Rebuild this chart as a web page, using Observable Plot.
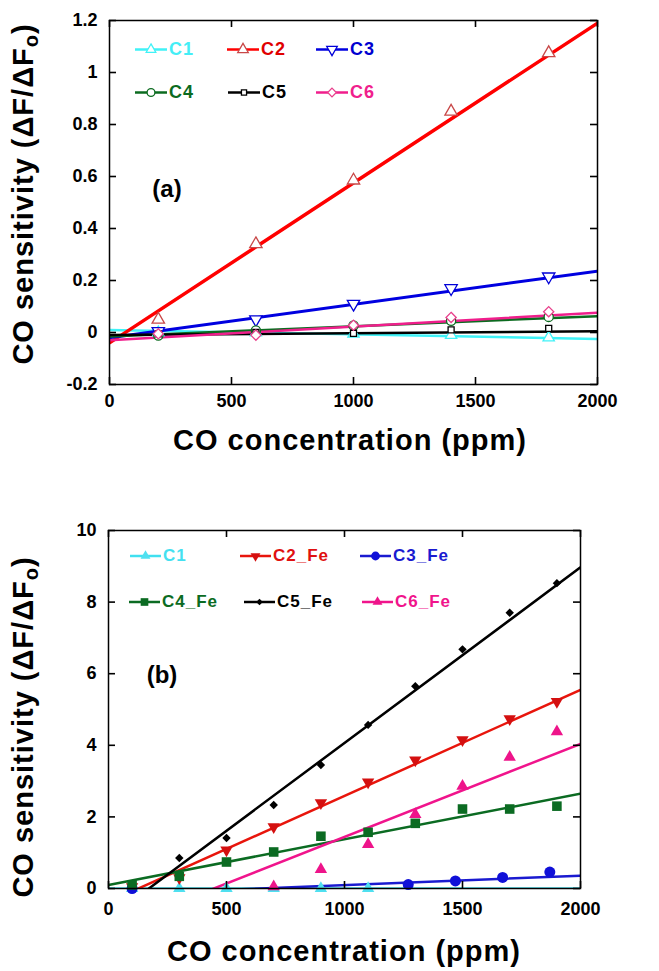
<!DOCTYPE html>
<html><head><meta charset="utf-8">
<script src="https://cdn.jsdelivr.net/npm/d3@7"></script>
<script src="https://cdn.jsdelivr.net/npm/@observablehq/plot@0.6"></script>
<style>
body{margin:0;background:#fff}
#root{position:relative;width:659px;height:971px;overflow:hidden;font-family:"Liberation Sans",Arial,sans-serif;font-weight:bold;color:#000;background:#fff}
.abs{position:absolute;white-space:nowrap}
.ytitle{font-size:29px;letter-spacing:1px;line-height:1;transform:translate(-50%,-50%) rotate(-90deg)}
.ytitle sub{font-size:20px;vertical-align:-5px}
.xtitle{font-size:29px;letter-spacing:1px;line-height:1;transform:translate(-50%,-50%)}
.plab{font-size:24px;line-height:1;transform:translate(-50%,-50%)}
.leg{display:flex;align-items:center;transform:translateY(-50%)}
.chart{position:absolute;left:0}
</style></head><body><div id="root"></div>
<script>
// ---------- shared ----------
const xDomain = [0, 2000];
const xTicks = [0, 500, 1000, 1500, 2000];
const xTickLabels = ["0", "500", "1000", "1500", "2000"];

// ---------- panel (a) data ----------
const seriesA = ["C1", "C2", "C3", "C4", "C5", "C6"];
const concA = [200, 600, 1000, 1400, 1800];
const c1A = [0.0, 0.0, -0.005, -0.01, -0.02];
const c2A = [0.05, 0.34, 0.585, 0.85, 1.075];
const c3A = [0.005, 0.05, 0.11, 0.17, 0.215];
const c4A = [-0.012, 0.008, 0.027, 0.045, 0.06];
const c5A = [-0.005, 0.0, -0.003, 0.01, 0.016];
const c6A = [-0.005, -0.01, 0.028, 0.058, 0.08];
const fitStartA = [0.01, -0.04, -0.02, -0.015, -0.01, -0.03];   // fitted line value at 0 ppm
const fitEndA = [-0.025, 1.19, 0.236, 0.063, 0.005, 0.076];     // fitted line value at 2000 ppm
const yTicksA = [-0.2, 0, 0.2, 0.4, 0.6, 0.8, 1, 1.2];
const yTickLabelsA = ["-0.2", "0", "0.2", "0.4", "0.6", "0.8", "1", "1.2"];

// ---------- panel (b) data ----------
const seriesB = ["C1", "C2_Fe", "C3_Fe", "C4_Fe", "C5_Fe", "C6_Fe"];
const concB1 = [100, 300, 500, 700, 900, 1100];
const c1B = [0, 0, 0, 0, 0, 0];
const concB2 = [100, 300, 500, 700, 900, 1100, 1300, 1500, 1700, 1900];
const c2B = [0.05, 0.3, 1.07, 1.72, 2.39, 2.97, 3.59, 4.15, 4.74, 5.22];
const concB3 = [100, 1270, 1470, 1670, 1870];
const c3B = [0, 0.11, 0.21, 0.31, 0.46];
const concB4 = [100, 300, 500, 700, 900, 1100, 1300, 1500, 1700, 1900];
const c4B = [0.1, 0.34, 0.74, 1.02, 1.46, 1.57, 1.82, 2.22, 2.22, 2.3];
const concB5 = [300, 500, 700, 900, 1100, 1300, 1500, 1700, 1900];
const c5B = [0.85, 1.41, 2.33, 3.45, 4.57, 5.65, 6.68, 7.7, 8.53];
const concB6 = [700, 900, 1100, 1300, 1500, 1700, 1900];
const c6B = [0.05, 0.53, 1.23, 2.07, 2.86, 3.67, 4.38];
const fitStartB = [0, -0.376, -0.17, 0.1, -0.84, -1.16];
const fitEndB = [0, 5.55, 0.36, 2.65, 8.97, 4.04];
const yTicksB = [0, 2, 4, 6, 8, 10];
const yTickLabelsB = ["0", "2", "4", "6", "8", "10"];

// ---------- styles ----------
const FONT = "'Liberation Sans', Arial, sans-serif";
const triangleDown = {
  draw(context, size) {
    const s3 = Math.sqrt(3);
    const y = -Math.sqrt(size / (s3 * 3));
    context.moveTo(0, -y * 2);
    context.lineTo(-s3 * y, y);
    context.lineTo(s3 * y, y);
    context.closePath();
  }
};
const styleA = {
  lineColors: ["#40f2f7", "#ff0000", "#0000e0", "#0b6b1f", "#000000", "#f01e8c"],
  markColors: ["#40f2f7", "#c84848", "#0000d8", "#0b6b1f", "#000000", "#e8408c"],
  textColors: ["#44eef6", "#e00000", "#0000d0", "#0b6b1f", "#000000", "#f0208c"],
  symbols: [d3.symbolTriangle, d3.symbolTriangle, triangleDown, d3.symbolCircle, d3.symbolSquare, d3.symbolDiamond2],
  radii: [4.2, 4.6, 4.6, 4.6, 3.4, 4.6],
  widths: [2.5, 3.5, 3, 2.5, 2.5, 2.5],
  filled: false
};
const styleB = {
  lineColors: ["#40e0f0", "#e8150c", "#1a1ad0", "#0b6b22", "#000000", "#f0148c"],
  markColors: ["#4fe0f0", "#d41010", "#1010d8", "#0b6b22", "#000000", "#ee148a"],
  textColors: ["#44e0f0", "#e01010", "#1a1ad0", "#0b6b22", "#000000", "#f0148c"],
  symbols: [d3.symbolTriangle, triangleDown, d3.symbolCircle, d3.symbolSquare, d3.symbolDiamond2, d3.symbolTriangle],
  radii: [4.6, 4.6, 5.5, 5.4, 3.8, 4.6],
  widths: [2.5, 2.5, 2.5, 2.5, 2.5, 2.5],
  filled: true
};

function makePanel({series, concs, values, fitStart, fitEnd, st, yDomain, yTicks, yLabels, height, margin, xPad, yPad}) {
  const W = 659;
  const fw = W - margin[1] - margin[3];       // frame width (px)
  const fh = height - margin[0] - margin[2];  // frame height (px)
  const T = 7;                                // inward tick length (px)
  const marks = [];
  series.forEach((s, i) => {
    const line = [{x: xDomain[0], y: fitStart[i]}, {x: xDomain[1], y: fitEnd[i]}];
    marks.push(Plot.line(line, {x: "x", y: "y", stroke: st.lineColors[i], strokeWidth: st.widths[i], clip: true}));
  });
  series.forEach((s, i) => {
    const pts = concs[i].map((x, j) => ({x, y: values[i][j]}));
    marks.push(Plot.dot(pts, {
      x: "x", y: "y", symbol: st.symbols[i], r: st.radii[i],
      fill: st.filled ? st.markColors[i] : "white",
      stroke: st.filled ? "none" : st.markColors[i],
      strokeWidth: 1.3
    }));
  });
  const rk = {stroke: "black", strokeWidth: 1.6};
  marks.push(
    Plot.frame({stroke: "black", strokeWidth: 1.5}),
    // inward tick marks on all four sides
    Plot.ruleX(xTicks, {x: d => d, insetTop: fh - T, ...rk}),
    Plot.ruleX(xTicks, {x: d => d, insetBottom: fh - T, ...rk}),
    Plot.ruleY(yTicks, {y: d => d, insetRight: fw - T, ...rk}),
    Plot.ruleY(yTicks, {y: d => d, insetLeft: fw - T, ...rk}),
    // tick labels
    Plot.axisX({anchor: "bottom", ticks: xTicks, tickSize: 0, tickPadding: xPad, fontSize: 18, fontWeight: "bold",
      tickFormat: d => xTickLabels[xTicks.indexOf(d)], label: null}),
    Plot.axisY({anchor: "left", ticks: yTicks, tickSize: 0, tickPadding: yPad, fontSize: 18, fontWeight: "bold",
      tickFormat: d => yLabels[yTicks.indexOf(d)], label: null})
  );
  return Plot.plot({
    width: W, height,
    marginTop: margin[0], marginRight: margin[1], marginBottom: margin[2], marginLeft: margin[3],
    x: {domain: xDomain},
    y: {domain: yDomain},
    style: {fontFamily: FONT, fontWeight: "bold", fontSize: "18px", color: "black", background: "transparent", overflow: "visible"},
    marks
  });
}

const root = document.getElementById("root");

const chartA = makePanel({
  series: seriesA,
  concs: seriesA.map(() => concA),
  values: [c1A, c2A, c3A, c4A, c5A, c6A],
  fitStart: fitStartA, fitEnd: fitEndA, st: styleA,
  yDomain: [-0.2, 1.2], yTicks: yTicksA, yLabels: yTickLabelsA,
  height: 480, margin: [20, 62, 96, 109], xPad: 10, yPad: 12
});
chartA.classList.add("chart"); chartA.style.top = "0px";
root.appendChild(chartA);

const chartB = makePanel({
  series: seriesB,
  concs: [concB1, concB2, concB3, concB4, concB5, concB6],
  values: [c1B, c2B, c3B, c4B, c5B, c6B],
  fitStart: fitStartB, fitEnd: fitEndB, st: styleB,
  yDomain: [0, 10], yTicks: yTicksB, yLabels: yTickLabelsB,
  height: 491, margin: [50, 79, 83, 108], xPad: 14, yPad: 12
});
chartB.classList.add("chart"); chartB.style.top = "480px";
root.appendChild(chartB);

// ---------- text overlays ----------
function addText(cls, html, left, top) {
  const d = document.createElement("div");
  d.className = "abs " + cls;
  d.innerHTML = html;
  d.style.left = left + "px"; d.style.top = top + "px";
  root.appendChild(d);
  return d;
}
const yTitle = "CO sensitivity (&Delta;F/&Delta;F<sub>o</sub>)";
const xTitle = "CO concentration (ppm)";
addText("ytitle", yTitle, 25, 194);
addText("ytitle", yTitle, 25, 727);
addText("xtitle", xTitle, 350, 440);
addText("xtitle", xTitle, 344, 951);
addText("plab", "(a)", 167, 189);
addText("plab", "(b)", 162, 675);

// ---------- legends ----------
function legendItem({left, top, len, lineColor, markColor, textColor, symbol, r, filled, label, fontSize}) {
  const div = document.createElement("div");
  div.className = "abs leg";
  div.style.left = left + "px"; div.style.top = top + "px";
  const svg = d3.create("svg").attr("width", len).attr("height", 16).style("overflow", "visible");
  svg.append("line").attr("x1", 0).attr("x2", len).attr("y1", 8).attr("y2", 8)
    .attr("stroke", lineColor).attr("stroke-width", 2.5);
  svg.append("path").attr("d", d3.symbol(symbol, Math.PI * r * r)())
    .attr("transform", `translate(${len / 2},8)`)
    .attr("fill", filled ? markColor : "white")
    .attr("stroke", filled ? "none" : markColor).attr("stroke-width", 1.3);
  div.appendChild(svg.node());
  const span = document.createElement("span");
  span.textContent = label;
  span.style.color = textColor; span.style.fontSize = fontSize + "px";
  span.style.marginLeft = "2px"; span.style.letterSpacing = "1px";
  div.appendChild(span);
  root.appendChild(div);
}
const legPosA = [[135, 49], [227, 49], [316, 49], [135, 92], [228, 92], [316, 92]];
seriesA.forEach((s, i) => legendItem({
  left: legPosA[i][0], top: legPosA[i][1], len: 32,
  lineColor: styleA.lineColors[i], markColor: styleA.markColors[i], textColor: styleA.textColors[i],
  symbol: styleA.symbols[i], r: styleA.radii[i] * 0.85, filled: false, label: s, fontSize: 18
}));
const legPosB = [[130, 556], [240, 556], [360, 556], [129, 602], [244, 602], [362, 602]];
seriesB.forEach((s, i) => legendItem({
  left: legPosB[i][0], top: legPosB[i][1], len: 31,
  lineColor: styleB.lineColors[i], markColor: styleB.markColors[i], textColor: styleB.textColors[i],
  symbol: styleB.symbols[i], r: styleB.radii[i] * 0.8, filled: true, label: s, fontSize: 17
}));
</script></body></html>
